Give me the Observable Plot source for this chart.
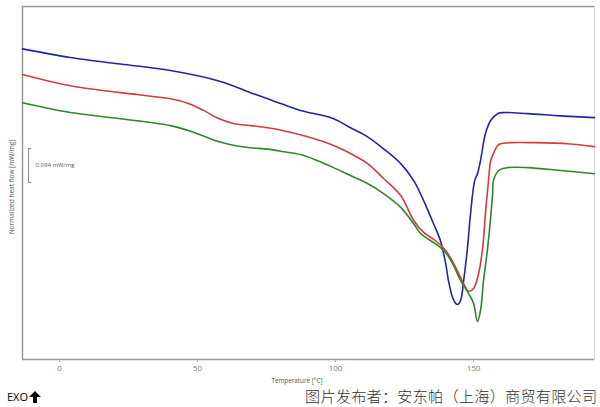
<!DOCTYPE html>
<html>
<head>
<meta charset="utf-8">
<script src="https://cdn.jsdelivr.net/npm/d3@7"></script>
<script src="https://cdn.jsdelivr.net/npm/@observablehq/plot@0.6"></script>
<style>
  html, body { margin: 0; padding: 0; background: #fff; }
  #wrap { position: relative; width: 600px; height: 407px; overflow: hidden; }
  #exo { position: absolute; left: 7px; top: 389px; font: 11px "Open Sans", "Noto Sans", sans-serif; color: #000; display: flex; align-items: center; }
  #cap { position: absolute; left: 305px; top: 385px; font: 300 15.2px "Noto Sans CJK SC", sans-serif; color: #333; white-space: nowrap; letter-spacing: 0.2px; line-height: 20px; }
</style>
</head>
<body>
<div id="wrap">
  <div id="chart"></div>
  <div id="exo">EXO<svg width="12" height="12" viewBox="0 0 12 12" style="margin-left:1px"><polygon points="6,0 12,6 8,6 8,12 4,12 4,6 0,6" fill="#000"/></svg></div>
  <div id="cap">图片发布者：安东帕（上海）商贸有限公司</div>
</div>
<script>
// Temperature [°C] sample positions and normalized heat flow [mW/mg] (arbitrary offset)
const blueT = [-13.4, 4.0, 22.1, 40.2, 58.3, 69.2, 75.4, 81.2, 87.3, 99.3, 105.4, 111.6, 117.4, 123.6, 128.3, 131.9, 135.5, 138.0, 139.9, 140.9, 142.4, 143.5, 144.2, 145.3, 146.4, 147.8, 148.9, 150.4, 151.4, 152.5, 154.3, 156.2, 158.7, 160.9, 169.6, 181.5, 193.8];
const blueHF = [0.858, 0.834, 0.816, 0.798, 0.768, 0.737, 0.720, 0.704, 0.688, 0.665, 0.640, 0.615, 0.582, 0.541, 0.494, 0.439, 0.375, 0.328, 0.265, 0.218, 0.171, 0.155, 0.152, 0.163, 0.218, 0.309, 0.403, 0.494, 0.513, 0.549, 0.624, 0.660, 0.679, 0.682, 0.679, 0.673, 0.668];

const redT = [-13.4, 4.0, 22.1, 40.2, 46.4, 52.2, 57.2, 63.0, 69.2, 75.4, 81.2, 87.3, 93.5, 99.3, 105.4, 111.6, 117.4, 123.6, 128.3, 131.9, 136.2, 139.9, 142.8, 145.3, 147.1, 148.2, 150.0, 151.8, 153.3, 154.3, 155.4, 156.2, 157.2, 158.7, 159.8, 163.4, 171.7, 184.1, 193.8];
const redHF = [0.787, 0.756, 0.737, 0.720, 0.708, 0.688, 0.667, 0.652, 0.646, 0.640, 0.632, 0.621, 0.607, 0.591, 0.569, 0.541, 0.500, 0.453, 0.384, 0.351, 0.328, 0.301, 0.265, 0.226, 0.199, 0.188, 0.196, 0.237, 0.309, 0.403, 0.494, 0.549, 0.569, 0.591, 0.596, 0.599, 0.599, 0.596, 0.588];

const greenT = [-13.4, 4.0, 22.1, 40.2, 46.4, 52.2, 57.2, 63.0, 69.2, 75.4, 81.2, 87.3, 93.5, 99.3, 105.4, 111.6, 117.4, 123.6, 128.3, 130.8, 133.3, 137.0, 139.9, 142.4, 145.3, 148.2, 150.0, 151.4, 152.5, 153.6, 155.1, 156.9, 157.2, 159.1, 162.3, 169.6, 181.5, 193.8];
const greenHF = [0.709, 0.682, 0.665, 0.646, 0.633, 0.617, 0.603, 0.592, 0.585, 0.581, 0.574, 0.566, 0.549, 0.530, 0.508, 0.486, 0.458, 0.420, 0.375, 0.348, 0.334, 0.315, 0.295, 0.265, 0.218, 0.182, 0.155, 0.105, 0.135, 0.218, 0.309, 0.458, 0.494, 0.522, 0.530, 0.530, 0.522, 0.513];

const xTicks = [0, 50, 100, 150];
const scaleBarValue = 0.094;   // mW/mg
const scaleBarBase = 0.489;
const scaleBarT = -11.2;
const scaleBarTickT = -10.1;

const series = [
  {T: blueT, HF: blueHF, color: "#2424a6"},
  {T: redT, HF: redHF, color: "#d43c3c"},
  {T: greenT, HF: greenHF, color: "#2a8a2a"}
];

const xDomain = [-13.4, 193.8];
const yDomain = [0, 0.975];

const marks = [
  // frame
  Plot.ruleX([xDomain[1]], {stroke: "#d8d8d8", strokeWidth: 1}),
  Plot.ruleY([yDomain[1]], {stroke: "#999", strokeWidth: 1.5}),
  Plot.ruleX([xDomain[0]], {stroke: "#999", strokeWidth: 1.5}),
  Plot.ruleY([yDomain[0]], {stroke: "#999", strokeWidth: 1.5}),
  ...series.map(s => Plot.line(s.T.map((t, i) => ({t, v: s.HF[i]})), {
    x: "t", y: "v", stroke: s.color, strokeWidth: 1.6, curve: "catmull-rom"
  })),
  // scale bar
  Plot.ruleX([scaleBarT], {y1: scaleBarBase, y2: scaleBarBase + scaleBarValue, stroke: "#888", strokeWidth: 1}),
  Plot.ruleY([scaleBarBase, scaleBarBase + scaleBarValue], {x1: scaleBarT, x2: scaleBarTickT, stroke: "#888", strokeWidth: 1}),
  Plot.text([`${scaleBarValue} mW/mg`], {x: scaleBarT, y: scaleBarBase + scaleBarValue / 2, dx: 7, textAnchor: "start", fontSize: 6, fill: "#555"})
];

const chart = Plot.plot({
  width: 600,
  height: 407,
  marginLeft: 22,
  marginRight: 6,
  marginTop: 6,
  marginBottom: 48,
  style: {fontFamily: "'Open Sans', 'Noto Sans', sans-serif", background: "#fff"},
  x: {type: "linear", domain: xDomain, label: null},
  y: {type: "linear", domain: yDomain, axis: null},
  marks: [
    Plot.axisX(xTicks, {tickSize: 3, tickPadding: 3, fontSize: 8, color: "#777", stroke: "#aaa", label: null}),
    ...marks
  ]
});

// Axis titles as plain SVG text
const svg = d3.select(chart);
svg.append("text").attr("x", 297).attr("y", 383).attr("text-anchor", "middle")
  .attr("font-size", 6.3).attr("fill", "#555").text("Temperature [°C]");
svg.append("text").attr("transform", "translate(14,187) rotate(-90)").attr("text-anchor", "middle")
  .attr("font-size", 6.5).attr("fill", "#555").text("Normalized heat flow [mW/mg]");

document.getElementById("chart").appendChild(chart);
</script>
</body>
</html>
